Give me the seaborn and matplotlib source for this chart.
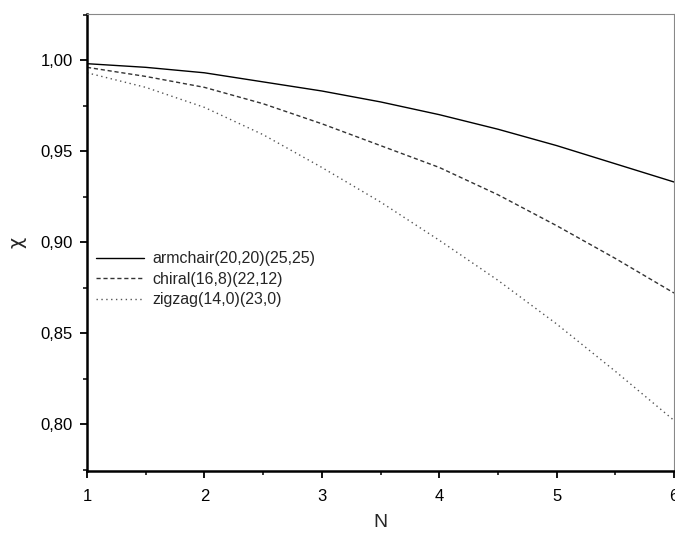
import numpy as np
import pandas as pd
import matplotlib
matplotlib.use("Agg")
import matplotlib.pyplot as plt
import seaborn as sns
from matplotlib.ticker import MultipleLocator

# ---- data ----
N = [1.0, 1.5, 2.0, 2.5, 3.0, 3.5, 4.0, 4.5, 5.0, 5.5, 6.0]
armchair = [0.998, 0.996, 0.993, 0.988, 0.983, 0.977, 0.970, 0.962, 0.953, 0.943, 0.933]
chiral = [0.996, 0.991, 0.985, 0.976, 0.965, 0.953, 0.941, 0.926, 0.909, 0.891, 0.872]
zigzag = [0.993, 0.985, 0.974, 0.959, 0.941, 0.922, 0.901, 0.879, 0.855, 0.829, 0.802]
labels = ["armchair(20,20)(25,25)", "chiral(16,8)(22,12)", "zigzag(14,0)(23,0)"]
xticks = [1, 2, 3, 4, 5, 6]
yticks = [0.80, 0.85, 0.90, 0.95, 1.00]
ytick_labels = ["0,80", "0,85", "0,90", "0,95", "1,00"]

sns.set_style("white")
plt.rcParams["font.family"] = ["Liberation Sans", "DejaVu Sans"]

fig = plt.figure(figsize=(6.75, 5.37), dpi=100)
ax = fig.add_axes([87 / 675, 1 - 471 / 537, 587 / 675, 457 / 537])

styles = [
    dict(color="black", linestyle="-", linewidth=1.0),
    dict(color="#333333", linestyle=(0, (3, 2)), linewidth=1.0),
    dict(color="#555555", linestyle=(0, (1, 2.5)), linewidth=1.0),
]
for vals, lab, st in zip([armchair, chiral, zigzag], labels, styles):
    df = pd.DataFrame({"N": N, "chi": vals})
    sns.lineplot(data=df, x="N", y="chi", ax=ax, label=lab, **st)

ax.set_xlim(1, 6)
ax.set_ylim(0.7742, 1.0253)
ax.set_xticks(xticks)
ax.set_xticklabels([str(v) for v in xticks])
ax.set_yticks(yticks)
ax.set_yticklabels(ytick_labels)
ax.xaxis.set_minor_locator(MultipleLocator(0.5))
ax.yaxis.set_minor_locator(MultipleLocator(0.025))

ax.tick_params(axis="both", which="major", direction="out", length=5, width=1.3,
               labelsize=12, colors="black")
ax.tick_params(axis="x", which="major", pad=8)
ax.tick_params(axis="y", which="major", pad=5)
ax.tick_params(axis="both", which="minor", direction="out", length=3, width=1.3)
ax.tick_params(axis="x", which="both", bottom=True, top=False)
ax.tick_params(axis="y", which="both", left=True, right=False)

for side in ["left", "bottom"]:
    ax.spines[side].set_color("black")
    ax.spines[side].set_linewidth(1.8)
for side in ["top", "right"]:
    ax.spines[side].set_color("#888888")
    ax.spines[side].set_linewidth(0.8)
    ax.spines[side].set_visible(True)

ax.set_xlabel("N", fontsize=14, labelpad=7)
ax.set_ylabel("χ", fontsize=14, labelpad=10, family=["DejaVu Sans"])

leg = ax.legend(loc="upper left", bbox_to_anchor=(0.005, 0.495), frameon=False,
                fontsize=11.5, handlelength=3.0, handletextpad=0.5,
                labelspacing=0.35, borderaxespad=0.0)

fig.savefig("out.png", dpi=100)
